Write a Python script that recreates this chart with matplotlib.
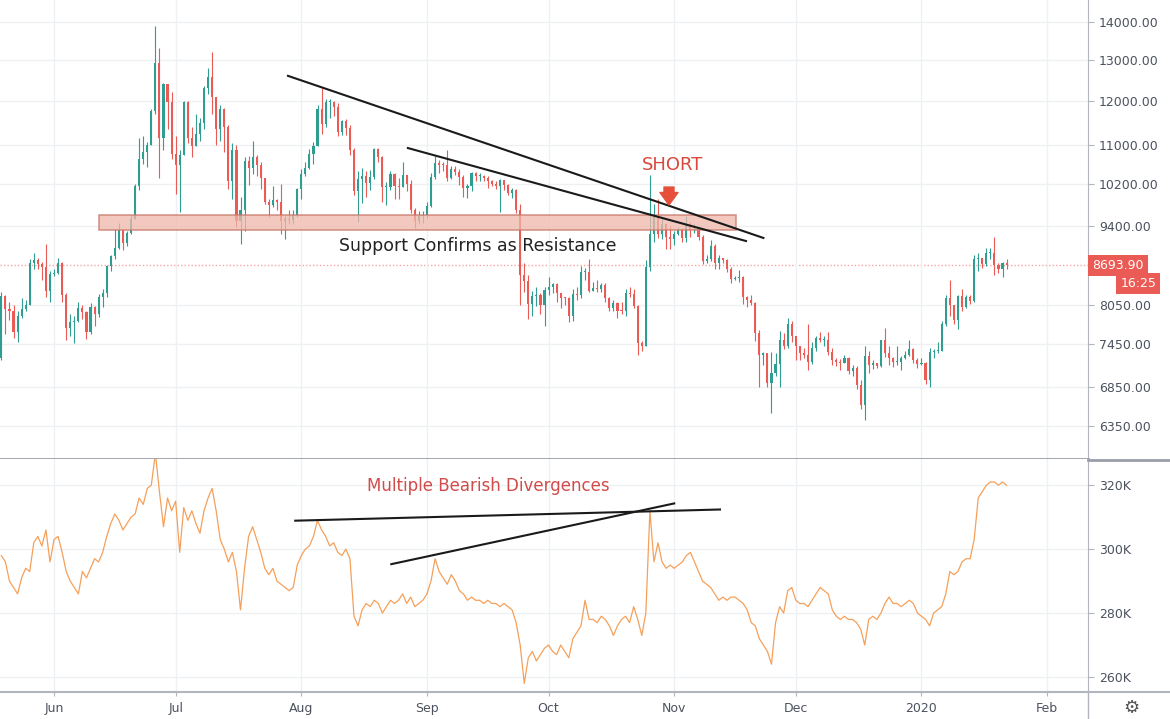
import matplotlib
matplotlib.use("Agg")
import matplotlib.pyplot as plt
import matplotlib.dates as mdates
from matplotlib.patches import Rectangle
from matplotlib.lines import Line2D
from matplotlib.ticker import FixedLocator, NullLocator, FuncFormatter
import numpy as np
import pandas as pd

# daily BTC candles, 2019-05-19 .. 2020-01-22
first_open = 7260
close = [
    8190, 7990, 7950, 7630, 7880, 7990, 8050, 8740, 8780, 8720, 8660, 8270, 8550,
    8560, 8740, 8210, 7700, 7790, 7800, 8000, 7930, 7630, 8020, 7910, 8180, 8230, 8690, 8860,
    8990, 9320, 9080, 9270, 9530, 10150, 10700, 10850, 11010, 11760, 12930, 11160, 12400, 11960, 10820,
    10580, 10800, 11980, 11150, 10980, 11250, 11480, 12300, 12570, 12100, 11350, 11810, 11390, 10260, 10890,
    9480, 9690, 10670, 10530, 10760, 10590, 10320, 9850, 9780, 9880, 9850, 9480, 9530, 9510, 9590, 10090,
    10400, 10520, 10820, 10980, 11800, 11470, 11970, 11980, 11850, 11280, 11530, 11380, 10900, 10050, 10300,
    10350, 10220, 10330, 10920, 10760, 10130, 10130, 10400, 10150, 10140, 10370, 10190, 9700, 9480, 9580, 9600,
    9760, 10340, 10620, 10590, 10580, 10320, 10500, 10440, 10330, 10110, 10160, 10420, 10360, 10360, 10310,
    10260, 10190, 10160, 10270, 10180, 10020, 10080, 9700, 8530, 8430, 8060, 8190, 8210, 8050, 8290,
    8340, 8390, 8230, 8160, 8150, 7880, 8220, 8200, 8590, 8590, 8270, 8320, 8310, 8360, 8160,
    8000, 8080, 7960, 7950, 8240, 8220, 8030, 7470, 7430, 8660, 9250, 9550, 9250, 9430, 9200, 9150,
    9250, 9310, 9180, 9410, 9310, 9340, 9200, 8770, 8800, 9040, 8730, 8820, 8780, 8640, 8470,
    8490, 8500, 8170, 8120, 8080, 7620, 7290, 7320, 6910, 7050, 7170, 7520, 7430, 7760, 7570,
    7420, 7320, 7300, 7200, 7400, 7550, 7510, 7520, 7340, 7220, 7200, 7190, 7250, 7070, 7110,
    6880, 6620, 7280, 7150, 7190, 7140, 7520, 7320, 7250, 7200, 7200, 7250, 7300, 7390, 7220, 7170,
    7180, 6950, 7340, 7350, 7360, 7760, 8160, 8040, 7820, 8190, 8020, 8180, 8110, 8810, 8820,
    8720, 8900, 8910, 8700, 8630, 8730, 8693.90,
]
high = [
    8260, 8200, 8100, 8040, 7950, 8160, 8130, 8800, 8900, 8820, 8750, 9070, 8600,
    8630, 8820, 8750, 8230, 7900, 7880, 8100, 8040, 7960, 8080, 8030, 8220, 8300, 8710, 8870,
    9330, 9440, 9330, 9300, 9600, 10200, 11150, 11200, 11080, 11800, 13880, 13300, 12420, 12400, 12200,
    11200, 10900, 12000, 12000, 11400, 11700, 11600, 12350, 12800, 13200, 12100, 11900, 11840, 11450, 11050,
    11000, 9950, 10750, 10780, 11100, 10800, 10650, 10320, 9900, 10150, 9900, 10200, 9580, 9690, 9700, 10110,
    10500, 10650, 10920, 11080, 11900, 12300, 12050, 12050, 12000, 11950, 11550, 11580, 11450, 10950, 10450,
    10520, 10450, 10480, 10950, 10950, 10780, 10230, 10450, 10420, 10320, 10650, 10380, 10280, 9720, 9680, 9680,
    9850, 10420, 10780, 10680, 10650, 10900, 10560, 10570, 10500, 10380, 10200, 10440, 10440, 10420, 10380,
    10350, 10270, 10260, 10300, 10280, 10200, 10120, 10090, 9800, 8730, 8530, 8270, 8330, 8230, 8340,
    8500, 8400, 8400, 8240, 8180, 8180, 8300, 8330, 8680, 8650, 8800, 8420, 8450, 8400, 8400,
    8170, 8120, 8100, 8100, 8300, 8330, 8300, 8040, 7500, 8780, 10370, 9800, 9900, 9550, 9450, 9400,
    9300, 9380, 9360, 9580, 9460, 9420, 9350, 9220, 8880, 9140, 9070, 8880, 8830, 8800, 8660,
    8520, 8620, 8510, 8190, 8200, 8090, 7660, 7340, 7330, 7340, 7330, 7650, 7620, 7850, 7800,
    7570, 7430, 7400, 7750, 7490, 7580, 7630, 7570, 7640, 7400, 7260, 7240, 7300, 7270, 7150,
    7140, 6950, 7420, 7350, 7220, 7190, 7520, 7690, 7430, 7270, 7430, 7280, 7360, 7510, 7400, 7260,
    7250, 7200, 7400, 7380, 7490, 7800, 8200, 8450, 8050, 8200, 8300, 8200, 8200, 8880, 8900,
    8830, 9000, 9000, 9190, 8730, 8760, 8800,
]
low = [
    7230, 7600, 7820, 7550, 7490, 7840, 7960, 8040, 8640, 8640, 8450, 8180, 8100,
    8510, 8550, 8100, 7510, 7580, 7470, 7780, 7830, 7530, 7610, 7730, 7860, 8010, 8180, 8600,
    8800, 8980, 8960, 9040, 9250, 9530, 10080, 10600, 10550, 11000, 11700, 10310, 10900, 11360, 10700,
    10000, 9650, 10800, 11050, 10750, 10980, 11100, 11350, 12150, 11700, 11000, 11100, 10850, 10100, 9900,
    9380, 9070, 9300, 10170, 10400, 10350, 10100, 9800, 9550, 9750, 9700, 9250, 9150, 9430, 9420, 9560,
    9900, 10350, 10500, 10600, 10980, 11250, 11400, 11600, 11650, 11200, 11220, 11220, 10800, 9980, 9460,
    9820, 9950, 10080, 10300, 10650, 9850, 9780, 10080, 9900, 9900, 10130, 10050, 9630, 9350, 9420, 9450,
    9540, 9750, 10300, 10420, 10450, 10250, 10300, 10380, 10180, 9950, 9920, 10050, 10250, 10250, 10260,
    10120, 10150, 10090, 9650, 10080, 9980, 9920, 9630, 8050, 8250, 7830, 7870, 8030, 7900, 7720,
    8200, 8230, 8090, 8000, 8040, 7780, 7800, 8130, 8150, 8450, 8250, 8270, 8250, 8250, 8100,
    7950, 7950, 7850, 7900, 7880, 8170, 8000, 7300, 7360, 7420, 8600, 9100, 9180, 9150, 8980, 8980,
    9050, 9230, 9100, 9100, 9200, 9270, 9130, 8720, 8740, 8770, 8640, 8640, 8730, 8580, 8400,
    8450, 8420, 8070, 8020, 8050, 7500, 6850, 7150, 6860, 6520, 7000, 6860, 7380, 7400, 7480,
    7220, 7230, 7250, 7080, 7170, 7350, 7480, 7420, 7300, 7160, 7140, 7080, 7180, 7030, 7000,
    6830, 6560, 6430, 7050, 7100, 7120, 7130, 7270, 7160, 7130, 7150, 7090, 7240, 7280, 7190, 7120,
    7150, 6900, 6860, 7260, 7320, 7350, 7720, 7870, 7760, 7680, 7950, 8000, 8060, 8100, 8600,
    8650, 8680, 8800, 8530, 8560, 8500, 8640,
]
# lower indicator, thousands
obv_k = [
    298, 296, 290, 288, 286, 291, 294, 293, 302, 304, 301, 306, 296,
    303, 304, 299, 293, 290, 288, 286, 293, 291, 294, 297, 296, 299, 304, 308,
    311, 309, 306, 308, 310, 311, 316, 314, 319, 320, 330, 318, 307, 316, 312,
    315, 299, 313, 309, 312, 308, 305, 312, 316, 319, 312, 303, 300, 296, 299,
    293, 281, 294, 304, 307, 303, 299, 294, 292, 294, 290, 289, 288, 287, 288, 295,
    298, 300, 301, 304, 309, 306, 304, 301, 302, 299, 298, 300, 297, 279, 276,
    281, 283, 282, 284, 283, 280, 282, 284, 283, 284, 286, 283, 285, 282, 283, 284,
    286, 290, 297, 293, 291, 289, 292, 290, 287, 286, 284, 285, 284, 284, 283,
    284, 283, 283, 282, 283, 282, 281, 277, 270, 258, 266, 268, 265, 267, 269,
    270, 268, 267, 270, 268, 266, 272, 274, 276, 284, 278, 278, 277, 279, 278,
    276, 273, 276, 278, 279, 277, 282, 278, 273, 280, 312, 296, 302, 296, 294, 295,
    294, 295, 296, 298, 299, 296, 293, 290, 289, 288, 286, 284, 285, 284, 285,
    285, 284, 283, 281, 277, 276, 272, 270, 268, 264, 277, 282, 280, 287, 288,
    284, 283, 283, 282, 284, 286, 288, 287, 286, 281, 279, 278, 279, 278, 278,
    277, 275, 270, 278, 279, 278, 280, 283, 285, 283, 283, 282, 283, 284, 283, 280,
    279, 278, 276, 280, 281, 282, 286, 293, 292, 293, 296, 297, 297, 303, 316,
    318, 320, 321, 321, 320, 321, 320,
]

month_ticks = ["2019-06-01", "2019-07-01", "2019-08-01", "2019-09-01", "2019-10-01",
               "2019-11-01", "2019-12-01", "2020-01-01", "2020-02-01"]
month_labels = ["Jun", "Jul", "Aug", "Sep", "Oct", "Nov", "Dec", "2020", "Feb"]
price_ticks = [6350, 6850, 7450, 8050, 9400, 10200, 11000, 12000, 13000, 14000]
obv_ticks = [260, 280, 300, 320]

UP = "#2f9e90"
DOWN = "#ea5b55"
GRID = "#eef0f4"
AXC = "#b2b5be"
TXT = "#4c525e"

close = np.array(close, float)
opn = np.r_[first_open, close[:-1]]
high = np.maximum(np.array(high, float), np.maximum(opn, close))
low = np.minimum(np.array(low, float), np.minimum(opn, close))
dates = pd.date_range("2019-05-19", periods=len(close), freq="D")
x = mdates.date2num(dates)
xt = mdates.date2num(pd.to_datetime(month_ticks))
d = lambda s: mdates.date2num(pd.Timestamp(s))

W, H = 1170, 719
fig = plt.figure(figsize=(W / 100, H / 100), dpi=100)
ax1 = fig.add_axes([0, 260 / H, 1088 / W, 459 / H])
ax2 = fig.add_axes([0, 27 / H, 1088 / W, 233 / H])

# candles
up = close >= opn
col = np.where(up, UP, DOWN)
ax1.set_yscale("log")
ax1.vlines(x, low, high, colors=col, lw=0.8, zorder=2)
blo = np.minimum(opn, close)
bhi = np.maximum(opn, close)
ax1.bar(x, np.maximum(bhi - blo, blo * 0.002), bottom=blo, width=0.52,
        color=col, linewidth=0, zorder=2)

xlim = (d("2019-05-18 16:00"), d("2020-02-11 02:00"))
for ax in (ax1, ax2):
    ax.set_xlim(*xlim)
    ax.set_xticks(xt)
    ax.grid(True, color=GRID, lw=1, zorder=0)
    ax.yaxis.tick_right()
    ax.tick_params(axis="y", direction="out", length=4, color=AXC,
                   labelsize=9, labelcolor=TXT, pad=4)
    for s in ("top", "left"):
        ax.spines[s].set_visible(False)
    ax.spines["right"].set_color(AXC)

ax1.set_ylim(5953, 14616)
ax1.yaxis.set_major_locator(FixedLocator(price_ticks))
ax1.yaxis.set_minor_locator(NullLocator())
ax1.yaxis.set_major_formatter(FuncFormatter(lambda v, p: f"{v:.2f}"))
ax1.tick_params(axis="x", length=0, labelbottom=False)
ax1.spines["bottom"].set_color("#9a9ea8")
ax1.spines["bottom"].set_linewidth(2)

# last price line and labels
last = close[-1]
ax1.axhline(last, color="#f4a6a3", lw=1, ls=(0, (1, 1.5)), zorder=1)
ax1.annotate(f"{last:.2f}", xy=(1, last), xycoords=("axes fraction", "data"),
             xytext=(3, 0), textcoords="offset points", ha="left", va="center",
             color="white", fontsize=9, annotation_clip=False,
             bbox=dict(boxstyle="square,pad=0.32", fc=DOWN, ec="none"))
ax1.annotate("16:25", xy=(1, last), xycoords=("axes fraction", "data"),
             xytext=(49, -13), textcoords="offset points", ha="right", va="center",
             color="white", fontsize=9, annotation_clip=False,
             bbox=dict(boxstyle="square,pad=0.32", fc=DOWN, ec="none"))

# support / resistance zone
x0, x1 = d("2019-06-12 02:00"), d("2019-11-16 07:00")
ax1.add_patch(Rectangle((x0, 9318), x1 - x0, 9597 - 9318, fc="#f0b8aa", ec="#c9786a",
                        lw=1.2, alpha=0.75, zorder=3))
ax1.text(d("2019-09-13 10:00"), 9031, "Support Confirms as Resistance", fontsize=12.5,
         color="#222222", ha="center", va="center", zorder=4)

# trend lines
ax1.plot([d("2019-07-28 17:00"), d("2019-11-23")], [12600, 9175], color="#1a1a1a", lw=1.5, zorder=4)
ax1.plot([d("2019-08-27 07:00"), d("2019-11-18 17:00")], [10940, 9120], color="#1a1a1a", lw=1.5, zorder=4)

# SHORT marker
ax1.text(d("2019-10-31 12:00"), 10583, "SHORT", fontsize=13, color="#d9483b",
         ha="center", va="center", zorder=4)
ax1.annotate("", xy=(d("2019-10-30 17:00"), 9786), xytext=(d("2019-10-30 17:00"), 10136),
             arrowprops=dict(arrowstyle="simple,head_width=0.65,head_length=0.45,tail_width=0.36",
                             color="#e6503a", mutation_scale=20, shrinkA=0, shrinkB=0), zorder=5)

# lower panel
ax2.plot(x, obv_k, color="#f5a05a", lw=0.9, zorder=2)
ax2.set_ylim(255.3, 328.2)
ax2.yaxis.set_major_locator(FixedLocator(obv_ticks))
ax2.yaxis.set_major_formatter(FuncFormatter(lambda v, p: f"{v:.0f}K"))
ax2.set_xticklabels(month_labels)
ax2.tick_params(axis="x", direction="out", length=3, color=AXC, labelsize=9,
                labelcolor=TXT, pad=4)
ax2.spines["bottom"].set_color(AXC)
ax2.spines["bottom"].set_linewidth(1.5)

ax2.plot([d("2019-07-30 12:00"), d("2019-11-12 07:00")], [308.9, 312.4], color="#1a1a1a", lw=1.5, zorder=3)
ax2.plot([d("2019-08-23 05:00"), d("2019-11-01")], [295.3, 314.3], color="#1a1a1a", lw=1.5, zorder=3)
ax2.text(d("2019-09-16 02:00"), 319.7, "Multiple Bearish Divergences", fontsize=12,
         color="#d24b4b", ha="center", va="center", zorder=4)

# frame pieces outside the axes
fig.add_artist(Line2D([1088 / W, 1], [1 - 460 / H] * 2, color="#9a9ea8", lw=2))
fig.add_artist(Line2D([1088 / W, 1], [27 / H] * 2, color=AXC, lw=1.5))
fig.add_artist(Line2D([1088 / W] * 2, [0, 27 / H], color=AXC, lw=1))
fig.text(1131 / W, 1 - 708 / H, "\u2699", ha="center", va="center", fontsize=13, color="#555555")

fig.savefig("out.png", dpi=100)
